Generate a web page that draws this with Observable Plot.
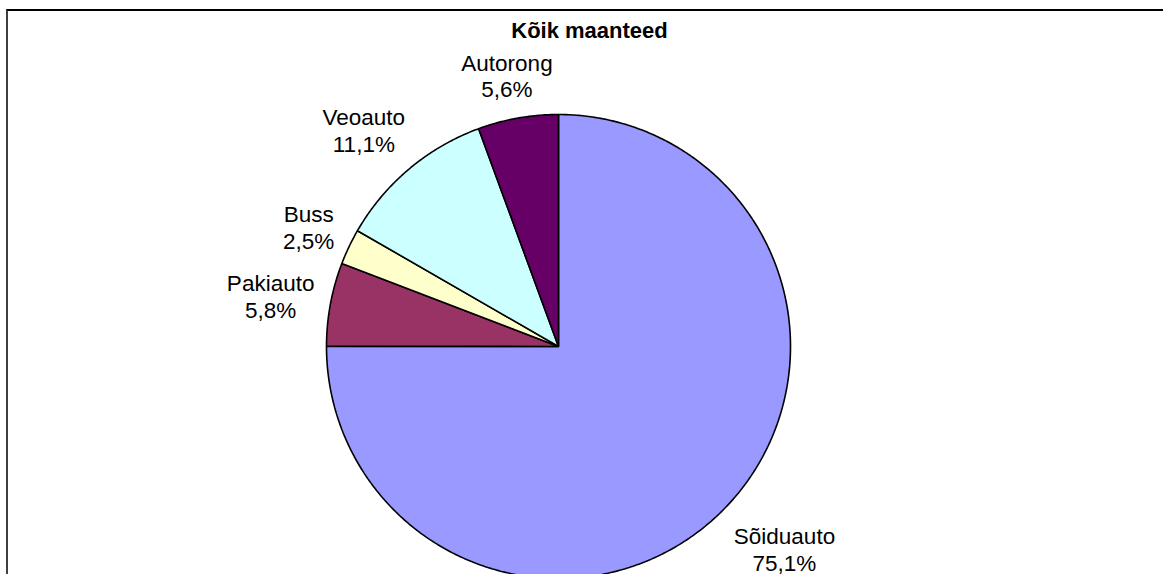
<!DOCTYPE html>
<html><head><meta charset="utf-8">
<script src="https://cdn.jsdelivr.net/npm/d3@7"></script>
<script src="https://cdn.jsdelivr.net/npm/@observablehq/plot@0.6"></script>
<style>
html,body{margin:0;padding:0;background:#fff;overflow:hidden}
#wrap{position:relative;width:1163px;height:574px;overflow:hidden}
#border{position:absolute;left:6px;top:9px;right:-10px;bottom:-10px;border-top:2px solid #000;border-left:2px solid #404040;pointer-events:none}
#chart{position:absolute;left:0;top:0}
</style></head><body>
<div id="wrap"><div id="chart"></div><div id="border"></div></div>
<script>
const title = "Kõik maanteed";
const categories = ["Sõiduauto", "Pakiauto", "Buss", "Veoauto", "Autorong"];
const shares = [75.1, 5.8, 2.5, 11.1, 5.6];
const shareLabels = ["75,1%", "5,8%", "2,5%", "11,1%", "5,6%"];
const colors = ["#9999FF", "#993366", "#FFFFCC", "#CCFFFF", "#660066"];

const W = 1163, H = 574, CX = 558, CY = 346, R = 232;
const FONT = "Arial, 'Liberation Sans', Helvetica, sans-serif";
const LABEL_SIZE = 22.5, LINE = 26.6;

const arcs = d3.pie().sort(null).value(d => d)(shares);

const slicePoints = [];
arcs.forEach((a, i) => {
  const name = categories[i];
  slicePoints.push({name, x: 0, y: 0});
  const n = Math.max(2, Math.ceil((a.endAngle - a.startAngle) / (Math.PI / 360)));
  for (let k = 0; k <= n; k++) {
    const t = a.startAngle + (a.endAngle - a.startAngle) * k / n;
    slicePoints.push({name, x: Math.sin(t), y: Math.cos(t)});
  }
});

const ctx = document.createElement("canvas").getContext("2d");
ctx.font = `${LABEL_SIZE}px ${FONT}`;
const labels = arcs.map((a, i) => {
  const mid = (a.startAngle + a.endAngle) / 2;
  const s = Math.sin(mid), c = Math.cos(mid);
  const m = Math.max(Math.abs(s), Math.abs(c));
  const lines = [categories[i], shareLabels[i]];
  const w = Math.max(...lines.map(t => ctx.measureText(t).width));
  const h = lines.length * LINE;
  return {
    text: lines.join("\n"),
    x: 1.07 * s + (s / m) * (w / 2) / R,
    y: 1.07 * c + (c / m) * (h / 2) / R
  };
});

const chart = Plot.plot({
  width: W, height: H, margin: 0,
  x: {domain: [-CX / R, (W - CX) / R], axis: null},
  y: {domain: [-(H - CY) / R, CY / R], axis: null},
  color: {domain: categories, range: colors},
  style: {fontFamily: FONT, background: "transparent"},
  marks: [
    Plot.line(slicePoints, {x: "x", y: "y", z: "name", fill: "name", stroke: "#000", strokeWidth: 1.6, curve: "linear-closed", strokeLinejoin: "miter"}),
    Plot.text(labels, {x: "x", y: "y", text: "text", fontSize: LABEL_SIZE, lineHeight: LINE / LABEL_SIZE, lineAnchor: "middle", textAnchor: "middle", fill: "#000"}),
    Plot.text([title], {frameAnchor: "top", dx: 589 - W / 2, dy: 37, lineAnchor: "bottom", textAnchor: "middle", fontWeight: "bold", fontSize: 22, text: d => d, fill: "#000"})
  ]
});
document.getElementById("chart").appendChild(chart);
</script>
</body></html>
